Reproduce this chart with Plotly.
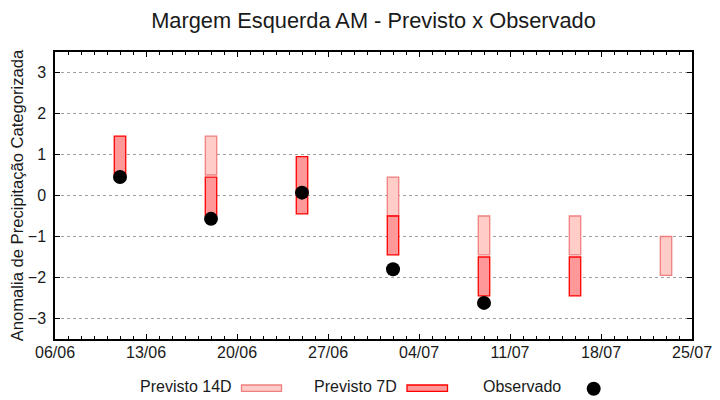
import plotly.graph_objects as go

# ---- data ----
dates_14d = ["2024-06-18", "2024-07-02", "2024-07-09", "2024-07-16", "2024-07-23"]
low_14d = [0.5, -0.5, -1.45, -1.45, -1.95]
high_14d = [1.45, 0.45, -0.5, -0.5, -1.0]

dates_7d = ["2024-06-11", "2024-06-18", "2024-06-25", "2024-07-02", "2024-07-09", "2024-07-16"]
low_7d = [0.5, -0.5, -0.45, -1.45, -2.45, -2.45]
high_7d = [1.45, 0.45, 0.95, -0.5, -1.5, -1.5]

dates_obs = ["2024-06-11", "2024-06-18", "2024-06-25", "2024-07-02", "2024-07-09"]
obs = [0.45, -0.57, 0.07, -1.8, -2.62]

y_ticks = [-3, -2, -1, 0, 1, 2, 3]
labels = ["Previsto 14D", "Previsto 7D", "Observado"]

DAY = 86400000
FONT = "Liberation Sans, Arial, sans-serif"

c14_fill, c14_line = "#ffccc8", "#f08080"
c7_fill, c7_line = "#ff9999", "#ff0000"

# page body has an 8px margin: the figure is drawn 8px in from the window edge
OFF = 8
W, H = 720 - OFF, 400 - OFF

fig = go.Figure()
fig.add_trace(go.Bar(
    x=dates_14d, base=low_14d, y=[h - l for h, l in zip(high_14d, low_14d)],
    width=0.88 * DAY, marker=dict(color=c14_fill, line=dict(color=c14_line, width=1.3)),
    name=labels[0], showlegend=False))
fig.add_trace(go.Bar(
    x=dates_7d, base=low_7d, y=[h - l for h, l in zip(high_7d, low_7d)],
    width=0.88 * DAY, marker=dict(color=c7_fill, line=dict(color=c7_line, width=1.3)),
    name=labels[1], showlegend=False))
fig.add_trace(go.Scatter(
    x=dates_obs, y=obs, mode="markers",
    marker=dict(color="black", size=14), name=labels[2], showlegend=False))

# ---- custom legend (gnuplot style: text then key) ----
# window-pixel positions of the plot frame
L = 55; R = 692; T = 52; B = 339
def px(x):
    return (x - L) / (R - L)
def py(y):
    return (B - y) / (B - T)

leg_y = 386.5
for txt, xe in [(labels[0], 234), (labels[1], 399), (labels[2], 563)]:
    fig.add_annotation(text=txt, x=px(xe), y=py(leg_y), xref="paper", yref="paper",
                       xanchor="right", yanchor="middle", showarrow=False,
                       font=dict(size=16, color="#1a1a1a", family=FONT))
for (x0, x1), fc, lc in [((241.5, 281.5), c14_fill, c14_line), ((407, 447.5), c7_fill, c7_line)]:
    fig.add_shape(type="rect", xref="paper", yref="paper",
                  x0=px(x0), x1=px(x1), y0=py(385), y1=py(391.3),
                  fillcolor=fc, line=dict(color=lc, width=1.3))
fig.add_shape(type="circle", xref="paper", yref="paper",
              xsizemode="pixel", ysizemode="pixel",
              xanchor=px(593.7), yanchor=py(388.7),
              x0=-7, x1=7, y0=-7, y1=7, fillcolor="black", line=dict(color="black", width=0))

fig.update_layout(
    width=W, height=H,
    margin=dict(l=L - OFF, r=720 - R, t=T - OFF, b=400 - B, autoexpand=False),
    paper_bgcolor="white", plot_bgcolor="white",
    barmode="overlay",
    font=dict(family=FONT, size=16, color="#1a1a1a"),
    title=dict(text="Margem Esquerda AM - Previsto x Observado", x=(373.5 - OFF) / W, xanchor="center",
               y=1 - (20 - OFF) / H, yanchor="middle", xref="container",
               font=dict(size=21.8, color="#1a1a1a")),
)
fig.update_xaxes(
    type="date", range=["2024-06-06", "2024-07-25"], automargin=False,
    tick0="2024-06-06", dtick=7 * DAY, tickformat="%d/%m",
    ticks="inside", ticklen=5, tickwidth=1, tickcolor="black",
    showline=True, linecolor="black", linewidth=1.5, mirror="ticks",
    showgrid=False, zeroline=False,
    minor=dict(ticks="inside", ticklen=3, dtick=DAY, tickcolor="black", showgrid=False),
    tickfont=dict(size=16), ticklabelstandoff=-2,
)
fig.update_yaxes(
    range=[-3.5, 3.5], tickvals=y_ticks, automargin=False,
    ticks="inside", ticklen=5, tickcolor="black",
    showline=True, linecolor="black", linewidth=1.5, mirror="ticks",
    showgrid=True, gridcolor="#a0a0a0", griddash="dot", gridwidth=1,
    zeroline=False, tickfont=dict(size=16), ticklabelstandoff=4,
    title=dict(text="Anomalia de Precipitação Categorizada", font=dict(size=16.6), standoff=2),
)

fig.write_html("out.html")
